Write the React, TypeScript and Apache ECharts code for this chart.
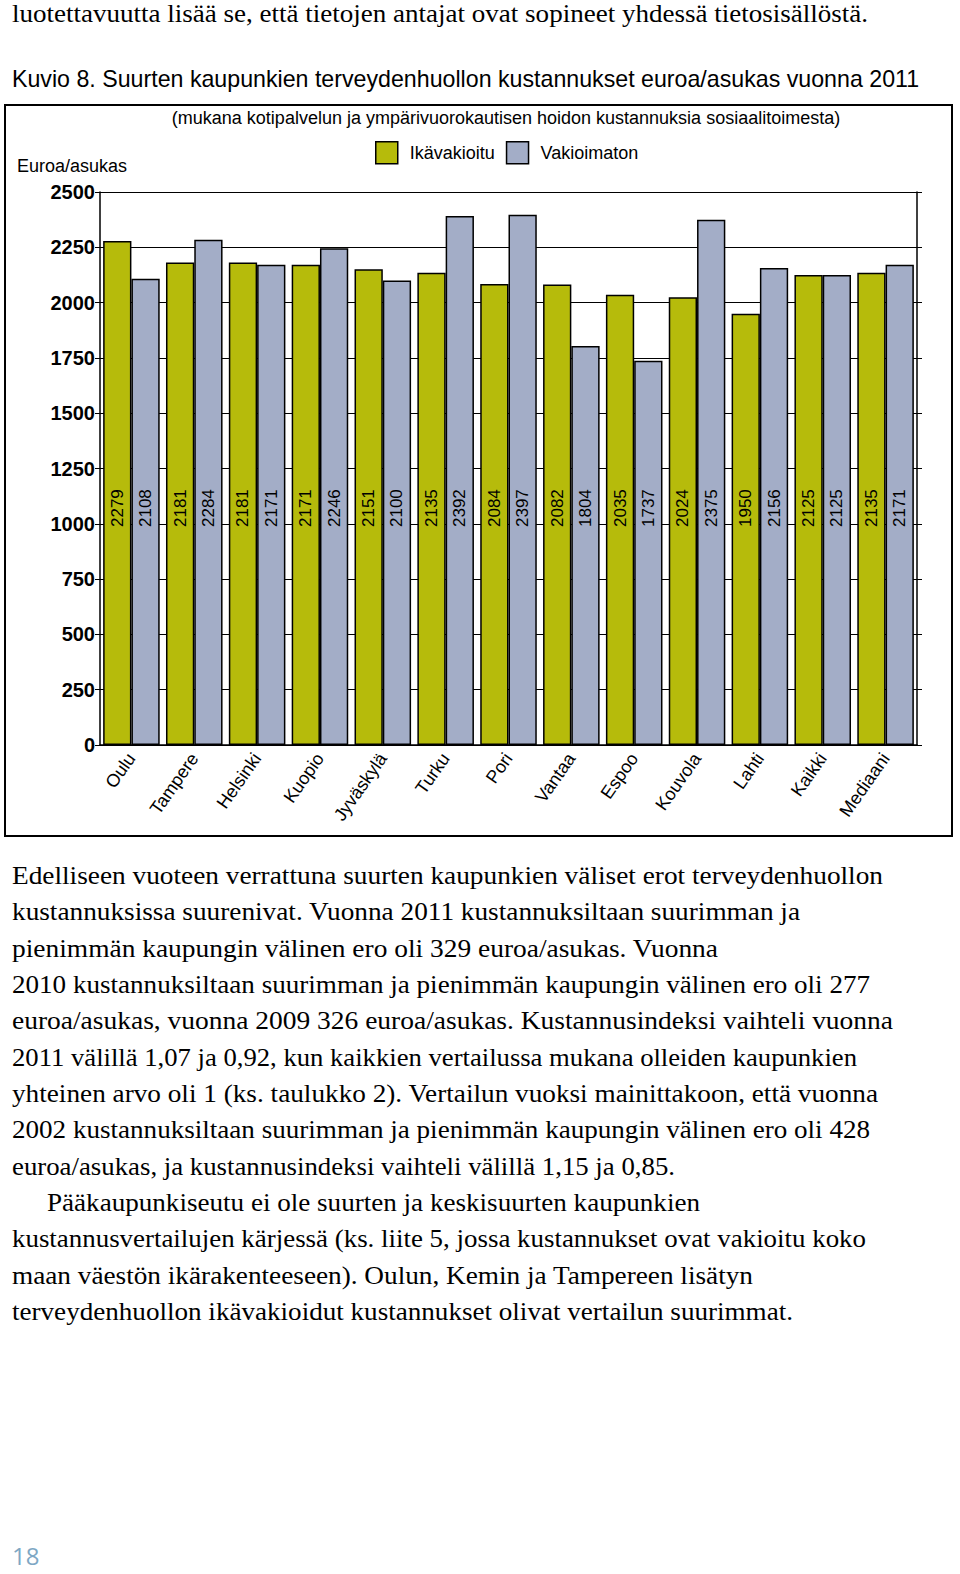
import React, { useEffect, useRef } from "react";
import * as echarts from "echarts";

const categories = ["Oulu", "Tampere", "Helsinki", "Kuopio", "Jyväskylä", "Turku", "Pori", "Vantaa", "Espoo", "Kouvola", "Lahti", "Kaikki", "Mediaani"];
const ikavakioitu = [2279, 2181, 2181, 2171, 2151, 2135, 2084, 2082, 2035, 2024, 1950, 2125, 2135];
const vakioimaton = [2108, 2284, 2171, 2246, 2100, 2392, 2397, 1804, 1737, 2375, 2156, 2125, 2171];
const seriesNames = ["Ikävakioitu", "Vakioimaton"];
const yMin = 0;
const yMax = 2500;
const yInterval = 250;

const titleText = "Kuvio 8. Suurten kaupunkien terveydenhuollon kustannukset euroa/asukas vuonna 2011";
const subtitleText = "(mukana kotipalvelun ja ympärivuorokautisen hoidon kustannuksia sosiaalitoimesta)";
const yAxisTitle = "Euroa/asukas";

const topLine = "luotettavuutta lisää se, että tietojen antajat ovat sopineet yhdessä tietosisällöstä.";
const bodyLines = [
  "Edelliseen vuoteen verrattuna suurten kaupunkien väliset erot terveydenhuollon",
  "kustannuksissa suurenivat. Vuonna 2011 kustannuksiltaan suurimman ja",
  "pienimmän kaupungin välinen ero oli 329 euroa/asukas. Vuonna",
  "2010 kustannuksiltaan suurimman ja pienimmän kaupungin välinen ero oli 277",
  "euroa/asukas, vuonna 2009 326 euroa/asukas. Kustannusindeksi vaihteli vuonna",
  "2011 välillä 1,07 ja 0,92, kun kaikkien vertailussa mukana olleiden kaupunkien",
  "yhteinen arvo oli 1 (ks. taulukko 2). Vertailun vuoksi mainittakoon, että vuonna",
  "2002 kustannuksiltaan suurimman ja pienimmän kaupungin välinen ero oli 428",
  "euroa/asukas, ja kustannusindeksi vaihteli välillä 1,15 ja 0,85.",
  "Pääkaupunkiseutu ei ole suurten ja keskisuurten kaupunkien",
  "kustannusvertailujen kärjessä (ks. liite 5, jossa kustannukset ovat vakioitu koko",
  "maan väestön ikärakenteeseen). Oulun, Kemin ja Tampereen lisätyn",
  "terveydenhuollon ikävakioidut kustannukset olivat vertailun suurimmat.",
];
// layout: [startX, endX] of each body line
const bodyLayout: [number, number][] = [
  [12, 883], [12, 800], [12, 718], [12, 870], [12, 893], [12, 857], [12, 878],
  [12, 870], [12, 675], [47, 700], [12, 866], [12, 753], [12, 793],
];
const pageNumber = "18";

const GREEN = "#b6bb0b";
const BLUE = "#a3adc7";
const CHART_TOP = 50;

function Chart() {
  const ref = useRef<HTMLDivElement>(null);
  useEffect(() => {
    if (!ref.current) return;
    const chart = echarts.init(ref.current, undefined, { renderer: "svg" });
    const font = "'Liberation Sans', Arial, sans-serif";
    const valueLabel = {
      show: true,
      position: "insideBottom",
      distance: 218,
      rotate: 90,
      align: "left",
      verticalAlign: "middle",
      fontSize: 17,
      fontFamily: font,
      color: "#000",
    };
    chart.setOption({
      animation: false,
      textStyle: { fontFamily: font },
      graphic: [
        {
          type: "rect",
          shape: { x: 5, y: 55, width: 947, height: 731 },
          style: { fill: "none", stroke: "#000", lineWidth: 2 },
          z: -10,
        },
        {
          type: "text",
          x: 12,
          y: 29,
          style: { text: titleText, fontSize: 23.2, fontFamily: font, fill: "#000", textVerticalAlign: "middle" },
        },
        {
          type: "text",
          x: 506,
          y: 68,
          style: { text: subtitleText, fontSize: 18, fontFamily: font, fill: "#000", textAlign: "center", textVerticalAlign: "middle" },
        },
        {
          type: "text",
          x: 17,
          y: 116,
          style: { text: yAxisTitle, fontSize: 18, fontFamily: font, fill: "#000", textVerticalAlign: "middle" },
        },
      ],
      legend: {
        data: seriesNames,
        left: 375,
        top: 91,
        padding: 0,
        itemWidth: 22,
        itemHeight: 22,
        itemGap: 11,
        icon: "rect",
        itemStyle: { borderColor: "#000", borderWidth: 1.5 },
        textStyle: { fontSize: 18, color: "#000", fontFamily: font, padding: [0, 0, 0, 7] },
      },
      grid: { left: 100, right: 43, top: 142, bottom: 100 },
      xAxis: {
        type: "category",
        data: categories,
        axisLine: { lineStyle: { color: "#000", width: 1.5 } },
        axisTick: { show: false },
        axisLabel: { rotate: 55, fontSize: 18, color: "#000", margin: 10, interval: 0, fontFamily: font },
      },
      yAxis: [
        {
          type: "value",
          min: yMin,
          max: yMax,
          interval: yInterval,
          axisLine: { show: true, lineStyle: { color: "#000", width: 1.5 } },
          axisTick: { show: true, length: 5, lineStyle: { color: "#000" } },
          axisLabel: {
            fontSize: 20,
            fontWeight: "bold",
            color: "#000",
            margin: 5,
            fontFamily: font,
            formatter: (v: number) => String(v),
          },
          splitLine: { show: true, lineStyle: { color: "#000", width: 1.2 } },
        },
        {
          type: "value",
          position: "right",
          min: yMin,
          max: yMax,
          interval: yInterval,
          axisLine: { show: true, lineStyle: { color: "#000", width: 1.5 } },
          axisTick: { show: true, length: 5, lineStyle: { color: "#000" } },
          axisLabel: { show: false },
          splitLine: { show: false },
        },
      ],
      series: [
        {
          name: seriesNames[0],
          type: "bar",
          data: ikavakioitu,
          barGap: "0%",
          barCategoryGap: "10%",
          itemStyle: { color: GREEN, borderColor: "#000", borderWidth: 1.5 },
          label: valueLabel,
        },
        {
          name: seriesNames[1],
          type: "bar",
          data: vakioimaton,
          barGap: "0%",
          barCategoryGap: "10%",
          itemStyle: { color: BLUE, borderColor: "#000", borderWidth: 1.5 },
          label: valueLabel,
        },
      ],
    });
    return () => chart.dispose();
  }, []);
  return <div ref={ref} style={{ position: "absolute", left: 0, top: CHART_TOP, width: 960, height: 795 }} />;
}

export default function App() {
  const serif = "'Liberation Serif', 'Times New Roman', serif";
  return (
    <div style={{ position: "absolute", left: 0, top: 0, width: 960, height: 1574, background: "#fff" }}>
      <svg width={960} height={1574} style={{ position: "absolute", left: 0, top: 0 }}>
        <text x={12} y={22} fontFamily={serif} fontSize={25} fill="#000" textLength={856} lengthAdjust="spacingAndGlyphs">
          {topLine}
        </text>
        {bodyLines.map((line, i) => (
          <text
            key={i}
            x={bodyLayout[i][0]}
            y={884 + i * 36.33}
            fontFamily={serif}
            fontSize={25}
            fill="#000"
            textLength={bodyLayout[i][1] - bodyLayout[i][0]}
            lengthAdjust="spacingAndGlyphs"
          >
            {line}
          </text>
        ))}
        <text x={12} y={1565} fontFamily="'Open Sans', 'Liberation Sans', sans-serif" fontSize={24} fill="#7ea7c4">
          {pageNumber}
        </text>
      </svg>
      <Chart />
    </div>
  );
}
